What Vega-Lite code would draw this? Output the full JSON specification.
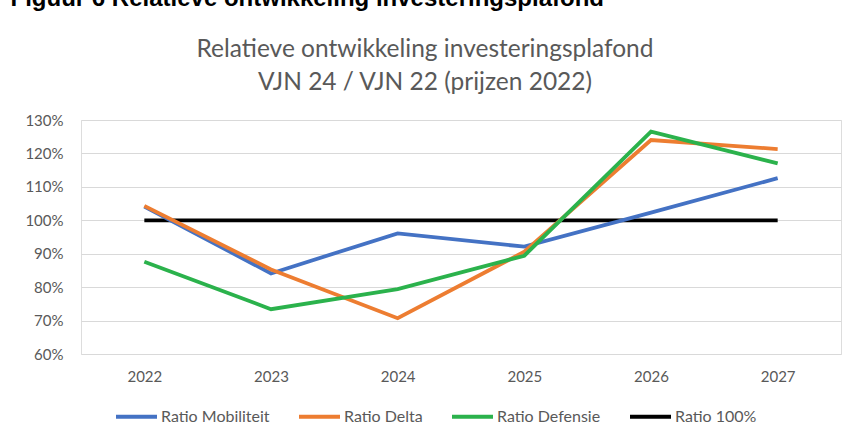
{
  "$schema": "https://vega.github.io/schema/vega-lite/v6.json",
  "width": 760,
  "height": 234,
  "autosize": {"type": "none"},
  "padding": {"left": 81, "top": 120, "right": 7, "bottom": 85},
  "background": "white",
  "title": {
    "text": ["Relatieve ontwikkeling investeringsplafond", "VJN 24 / VJN 22 (prijzen 2022)"],
    "font": "Lato",
    "fontSize": 24.5,
    "fontWeight": "normal",
    "color": "#595959",
    "lineHeight": 33,
    "offset": 30,
    "anchor": "middle",
    "dx": -36,
    "dy": 139
  },
  "data": {
    "values": [
      {"jaar": "2022", "reeks": "Ratio 100%", "waarde": 1.0},
      {"jaar": "2023", "reeks": "Ratio 100%", "waarde": 1.0},
      {"jaar": "2024", "reeks": "Ratio 100%", "waarde": 1.0},
      {"jaar": "2025", "reeks": "Ratio 100%", "waarde": 1.0},
      {"jaar": "2026", "reeks": "Ratio 100%", "waarde": 1.0},
      {"jaar": "2027", "reeks": "Ratio 100%", "waarde": 1.0},
      {"jaar": "2022", "reeks": "Ratio Mobiliteit", "waarde": 1.041},
      {"jaar": "2023", "reeks": "Ratio Mobiliteit", "waarde": 0.841},
      {"jaar": "2024", "reeks": "Ratio Mobiliteit", "waarde": 0.961},
      {"jaar": "2025", "reeks": "Ratio Mobiliteit", "waarde": 0.921},
      {"jaar": "2026", "reeks": "Ratio Mobiliteit", "waarde": 1.023},
      {"jaar": "2027", "reeks": "Ratio Mobiliteit", "waarde": 1.126},
      {"jaar": "2022", "reeks": "Ratio Delta", "waarde": 1.043},
      {"jaar": "2023", "reeks": "Ratio Delta", "waarde": 0.853},
      {"jaar": "2024", "reeks": "Ratio Delta", "waarde": 0.707},
      {"jaar": "2025", "reeks": "Ratio Delta", "waarde": 0.906},
      {"jaar": "2026", "reeks": "Ratio Delta", "waarde": 1.240},
      {"jaar": "2027", "reeks": "Ratio Delta", "waarde": 1.213},
      {"jaar": "2022", "reeks": "Ratio Defensie", "waarde": 0.876},
      {"jaar": "2023", "reeks": "Ratio Defensie", "waarde": 0.734},
      {"jaar": "2024", "reeks": "Ratio Defensie", "waarde": 0.794},
      {"jaar": "2025", "reeks": "Ratio Defensie", "waarde": 0.894},
      {"jaar": "2026", "reeks": "Ratio Defensie", "waarde": 1.265},
      {"jaar": "2027", "reeks": "Ratio Defensie", "waarde": 1.170}
    ]
  },
  "mark": {"type": "line", "strokeWidth": 3.8},
  "encoding": {
    "x": {
      "field": "jaar",
      "type": "ordinal",
      "scale": {"padding": 0.5},
      "axis": {
        "title": null,
        "labelAngle": 0,
        "domain": false,
        "ticks": false,
        "grid": false,
        "labelPadding": 15,
        "labelFont": "Lato",
        "labelFontSize": 15,
        "labelColor": "#595959"
      }
    },
    "y": {
      "field": "waarde",
      "type": "quantitative",
      "scale": {"domain": [0.6, 1.3], "nice": false, "zero": false},
      "axis": {
        "values": [0.6, 0.7, 0.8, 0.9, 1.0, 1.1, 1.2, 1.3],
        "format": ".0%",
        "domain": false,
        "ticks": false,
        "grid": true,
        "gridColor": "#d9d9d9",
        "gridWidth": 1,
        "labelPadding": 18,
        "labelFont": "Lato",
        "labelFontSize": 15,
        "labelColor": "#595959",
        "title": "Figuur 6 Relatieve ontwikkeling investeringsplafond",
        "titleAngle": 0,
        "titleX": -71,
        "titleY": -115,
        "titleAlign": "left",
        "titleBaseline": "alphabetic",
        "titleFont": "Liberation Sans",
        "titleFontSize": 24,
        "titleFontWeight": "bold",
        "titleColor": "#000000"
      }
    },
    "color": {
      "field": "reeks",
      "type": "nominal",
      "scale": {
        "domain": ["Ratio Mobiliteit", "Ratio Delta", "Ratio Defensie", "Ratio 100%"],
        "range": ["#4472C4", "#ED7D31", "#2BB24C", "#000000"]
      },
      "legend": {
        "title": null,
        "orient": "none",
        "legendX": 33,
        "legendY": 274,
        "direction": "horizontal",
        "columns": 4,
        "padding": 0,
        "symbolType": "stroke",
        "symbolSize": 1681,
        "symbolStrokeWidth": 4,
        "labelFont": "Lato",
        "labelFontSize": 16,
        "labelColor": "#595959",
        "labelOffset": 2,
        "columnPadding": 21
      }
    }
  }
}
